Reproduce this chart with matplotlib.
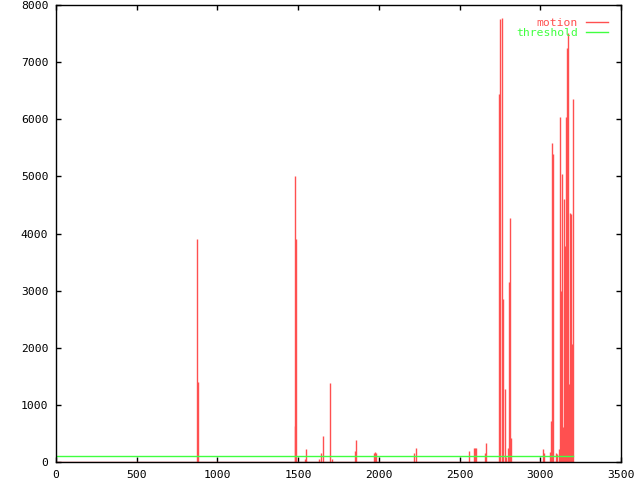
import matplotlib
matplotlib.use("Agg")
import matplotlib.pyplot as plt

# spike frames and motion values (everything else sits at 0)
frames = [875, 882, 1480, 1483, 1487, 1543, 1547, 1551, 1630, 1640, 1652, 1700, 1712,
          1853, 1861, 1970, 1976, 1980, 2220, 2228, 2561, 2590, 2596, 2600, 2658, 2664,
          2747, 2753, 2765, 2770, 2784, 2790, 2800, 2809, 2815, 2821,
          3019, 3025, 3063, 3069, 3075, 3081, 3100, 3106, 3118, 3125, 3131, 3137, 3143,
          3149, 3155, 3162, 3168, 3174, 3180, 3186, 3193, 3199, 3205]
motion = [3900, 1400, 630, 5000, 3900, 47, 227, 20, 47, 157, 455, 1383, 47,
          192, 385, 157, 175, 160, 157, 245, 192, 245, 245, 245, 157, 333,
          6440, 7753, 7770, 2853, 1283, 80, 250, 3150, 4270, 425,
          233, 163, 180, 723, 5583, 5390, 163, 145, 233, 6038, 2993, 5040, 618,
          4603, 3780, 6038, 7245, 7508, 1370, 4358, 4340, 2070, 6353]
first_frame, last_frame = 0, 3205
threshold = 100

red = "#ff5050"
green = "#40ff40"
mono = "DejaVu Sans Mono"

fig = plt.figure(figsize=(6.4, 4.8), dpi=100)
ax = fig.add_axes([56 / 640, 18 / 480, 565 / 640, 457 / 480])

ax.vlines(frames, 0, motion, color=red, lw=1.0)
ax.plot([first_frame, last_frame], [0, 0], color=red, lw=1.0, label="motion")
ax.plot([first_frame, last_frame], [threshold, threshold], color=green, lw=1.0, label="threshold")

ax.set_xlim(0, 3500)
ax.set_ylim(0, 8000)
ax.set_xticks(range(0, 3501, 500))
ax.set_yticks(range(0, 8001, 1000))
ax.tick_params(direction="in", length=3.6, width=1, top=True, right=True,
               labelsize=8.2, pad=5.5)
for lbl in ax.get_xticklabels() + ax.get_yticklabels():
    lbl.set_family(mono)
for s in ax.spines.values():
    s.set_linewidth(1)

leg = ax.legend(loc="upper right", frameon=False, markerfirst=False,
                labelcolor="linecolor", prop={"family": mono, "size": 8.2},
                handlelength=2.0, handletextpad=0.7, labelspacing=0.0,
                borderaxespad=0.7)

fig.savefig("out.png", dpi=100)
